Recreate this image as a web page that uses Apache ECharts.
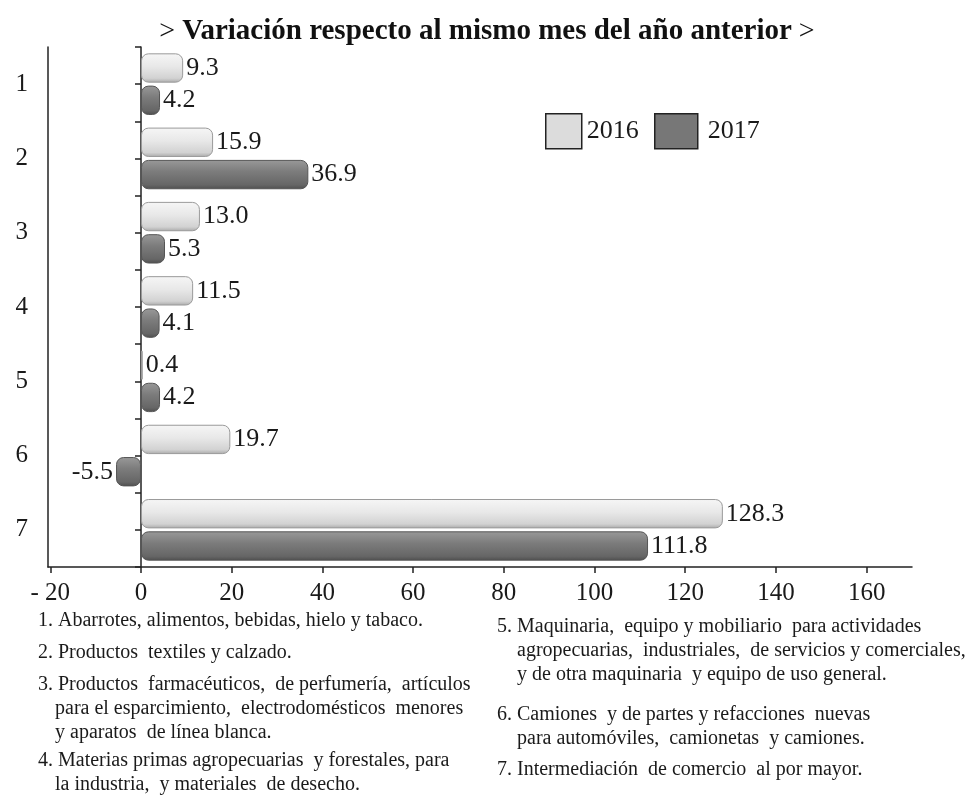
<!DOCTYPE html>
<html>
<head>
<meta charset="utf-8">
<script src="https://cdn.jsdelivr.net/npm/echarts@6/dist/echarts.min.js"></script>
<style>
html,body{margin:0;padding:0;background:#fff;}
#chart{width:974px;height:799px;}
</style>
</head>
<body>
<div id="chart"></div>
<script>
const categories = ['1', '2', '3', '4', '5', '6', '7'];
const seriesNames = ['2016', '2017'];
const values2016 = [9.3, 15.9, 13.0, 11.5, 0.4, 19.7, 128.3];
const values2017 = [4.2, 36.9, 5.3, 4.1, 4.2, -5.5, 111.8];
const xTickValues = [-20, 0, 20, 40, 60, 80, 100, 120, 140, 160];
const titleText = 'Variación respecto al mismo mes del año anterior';
const notesLeft = [
  ['1. Abarrotes, alimentos, bebidas, hielo y tabaco.'],
  ['2. Productos  textiles y calzado.'],
  ['3. Productos  farmacéuticos,  de perfumería,  artículos', 'para el esparcimiento,  electrodomésticos  menores', 'y aparatos  de línea blanca.'],
  ['4. Materias primas agropecuarias  y forestales, para', 'la industria,  y materiales  de desecho.']
];
const notesRight = [
  ['5. Maquinaria,  equipo y mobiliario  para actividades', 'agropecuarias,  industriales,  de servicios y comerciales,', 'y de otra maquinaria  y equipo de uso general.'],
  ['6. Camiones  y de partes y refacciones  nuevas', 'para automóviles,  camionetas  y camiones.'],
  ['7. Intermediación  de comercio  al por mayor.']
];

const FONT = '"Liberation Serif", "Times New Roman", serif';
const chart = echarts.init(document.getElementById('chart'), null, {renderer: 'canvas'});

function grad(stops) {
  return new echarts.graphic.LinearGradient(0, 0, 0, 1, stops.map(c => ({offset: c[0], color: c[1]})));
}
const style2016 = {
  color: grad([[0, '#f6f6f6'], [0.45, '#e8e8e8'], [0.85, '#d2d2d2'], [1, '#a9a9a9']]),
  borderColor: '#9a9a9a', borderWidth: 1, borderRadius: 7
};
const style2017 = {
  color: grad([[0, '#999999'], [0.4, '#7c7c7c'], [0.85, '#666666'], [1, '#4e4e4e']]),
  borderColor: '#555555', borderWidth: 1, borderRadius: 7
};

function toData(arr) {
  return arr.map(v => v < 0 ? {value: v, label: {position: 'left'}} : v);
}

const labelCfg = {
  show: true, position: 'right', distance: 3,
  fontFamily: FONT, fontSize: 26, color: '#1a1a1a',
  formatter: p => Number(p.value).toFixed(1)
};

const graphics = [];
function addNotes(notes, x, indentX, ys) {
  let k = 0;
  notes.forEach(item => {
    item.forEach((line, j) => {
      graphics.push({
        type: 'text', left: j === 0 ? x : indentX, top: ys[k] - 11,
        style: {text: line, font: '20px ' + FONT, fill: '#1a1a1a'}
      });
      k++;
    });
  });
}
addNotes(notesLeft, 38, 55, [622, 654, 686, 710, 734, 762, 786]);
addNotes(notesRight, 497, 517, [628, 652, 676, 716, 740, 771]);

const legendText = {fontFamily: FONT, fontSize: 26, color: '#1a1a1a'};

const option = {
  backgroundColor: '#ffffff',
  animation: false,
  title: {
    text: '{a|> }{b|' + titleText + '}{a| >}',
    left: 'center', top: 12,
    textStyle: {
      rich: {
        a: {fontFamily: FONT, fontSize: 28, color: '#111', fontWeight: 'normal'},
        b: {fontFamily: FONT, fontSize: 29, color: '#111', fontWeight: 'bold'}
      }
    }
  },
  legend: [
    {
      left: 540, top: 108,
      itemWidth: 36, itemHeight: 35,
      textStyle: legendText,
      data: [{name: seriesNames[0], icon: 'rect', itemStyle: {color: '#dcdcdc', borderColor: '#222', borderWidth: 1.5}}]
    },
    {
      left: 649, top: 108,
      itemWidth: 43, itemHeight: 35,
      textStyle: Object.assign({padding: [0, 0, 0, 5]}, legendText),
      data: [{name: seriesNames[1], icon: 'rect', itemStyle: {color: '#777777', borderColor: '#222', borderWidth: 1.5}}]
    }
  ],
  grid: {left: 48, right: 62, top: 47, bottom: 232, containLabel: false},
  xAxis: {
    type: 'value', min: -20.5, max: 170,
    splitLine: {show: false},
    axisLine: {show: true, onZero: false, lineStyle: {color: '#222', width: 1.5}},
    axisTick: {show: true, length: 6, customValues: xTickValues, lineStyle: {color: '#222', width: 1.5}},
    axisLabel: {
      customValues: xTickValues,
      margin: 14, fontFamily: FONT, fontSize: 25, color: '#1a1a1a',
      formatter: v => v === -20 ? '- 20' : String(v)
    }
  },
  yAxis: [
    {
      type: 'category', data: categories, inverse: true, position: 'left',
      axisLine: {show: true, onZero: false, lineStyle: {color: '#222', width: 1.5}},
      axisTick: {show: false},
      axisLabel: {margin: 20, fontFamily: FONT, fontSize: 25, color: '#1a1a1a'}
    },
    {
      type: 'category', data: categories.flatMap(c => [c + 'a', c + 'b']), inverse: true,
      position: 'left',
      axisLine: {show: true, onZero: true, lineStyle: {color: '#222', width: 1.5}},
      axisTick: {show: true, inside: false, length: 6, lineStyle: {color: '#222', width: 1.5}},
      axisLabel: {show: false},
      splitLine: {show: false}
    }
  ],
  series: [
    {
      name: seriesNames[0], type: 'bar', yAxisIndex: 0,
      data: toData(values2016),
      barCategoryGap: '17%', barGap: '10%',
      itemStyle: style2016, label: labelCfg
    },
    {
      name: seriesNames[1], type: 'bar', yAxisIndex: 0,
      data: toData(values2017),
      barCategoryGap: '17%', barGap: '10%',
      itemStyle: style2017, label: labelCfg
    }
  ],
  graphic: graphics
};
chart.setOption(option);
</script>
</body>
</html>
